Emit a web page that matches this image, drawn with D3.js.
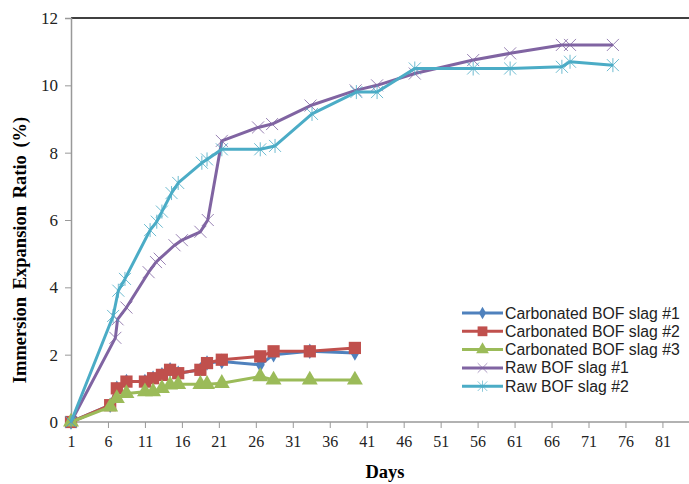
<!DOCTYPE html>
<html>
<head>
<meta charset="utf-8">
<script src="https://cdn.jsdelivr.net/npm/d3@7"></script>
<style>
  body { margin: 0; background: #fff; }
</style>
</head>
<body>
<svg id="chart" width="689" height="484"></svg>
<script>
// data
var names = ["Carbonated BOF slag #1", "Carbonated BOF slag #2", "Carbonated BOF slag #3", "Raw BOF slag #1", "Raw BOF slag #2"];
var colors = ["#4F81BD", "#C0504D", "#9BBB59", "#8064A2", "#4BACC6"];

var carbDays = [1, 6.3, 7.2, 8.5, 11, 12.1, 13.3, 14.4, 15.5, 18.5, 19.4, 21.4, 26.6, 28.4, 33.3, 39.4];
var carb1 = [0, 0.5, 1.0, 1.2, 1.2, 1.3, 1.4, 1.55, 1.45, 1.55, 1.75, 1.8, 1.7, 2.0, 2.1, 2.05];
var carb2 = [0, 0.5, 1.0, 1.2, 1.2, 1.3, 1.4, 1.55, 1.45, 1.55, 1.75, 1.85, 1.95, 2.1, 2.1, 2.2];
var carb3 = [0, 0.45, 0.7, 0.85, 0.9, 0.9, 1.0, 1.1, 1.12, 1.12, 1.12, 1.15, 1.35, 1.25, 1.25, 1.25];

var raw1Days = [1, 7, 7.3, 8.5, 11.5, 12.5, 13, 15, 16, 18.5, 19.5, 21.4, 26.3, 28.2, 33.4, 39.5, 42.4, 47.5, 55.4, 60.4, 67.4, 68.5, 74.3];
var raw1 = [0, 2.5, 3.05, 3.4, 4.45, 4.75, 4.85, 5.25, 5.4, 5.65, 6.0, 8.35, 8.75, 8.85, 9.4, 9.85, 10.0, 10.35, 10.75, 10.95, 11.2, 11.2, 11.2];

var raw2Days = [1, 6.7, 7.4, 8.3, 11.7, 12.6, 13.3, 14.6, 15.5, 18.7, 19.4, 21.4, 26.6, 28.6, 33.6, 39.6, 42.4, 47.5, 55.4, 60.4, 67.4, 68.5, 74.3];
var raw2 = [0, 3.15, 3.9, 4.25, 5.7, 5.95, 6.25, 6.8, 7.1, 7.7, 7.8, 8.1, 8.1, 8.2, 9.15, 9.8, 9.8, 10.5, 10.5, 10.5, 10.55, 10.7, 10.6];

var xTicks = d3.range(1, 82, 5);
var yTicks = [0, 2, 4, 6, 8, 10, 12];

var series = [
    { days: carbDays, vals: carb1, marker: "diamond" },
    { days: carbDays, vals: carb2, marker: "square" },
    { days: carbDays, vals: carb3, marker: "triangle" },
    { days: raw1Days, vals: raw1, marker: "x" },
    { days: raw2Days, vals: raw2, marker: "star" }
];

var svg = d3.select("#chart");
var serif = "'Liberation Serif', 'Times New Roman', serif";
var sans = "'Liberation Sans', Arial, sans-serif";

var x = d3.scaleLinear().domain([1, 85]).range([71, 692]);
var y = d3.scaleLinear().domain([0, 12]).range([422, 18]);

// top border
svg.append("line")
    .attr("x1", x(1)).attr("x2", 689)
    .attr("y1", y(12)).attr("y2", y(12))
    .attr("stroke", "#000").attr("stroke-width", 1.5);

// y axis
var yAxis = svg.append("g").attr("transform", "translate(" + x(1) + ",0)")
    .call(d3.axisLeft(y).tickValues(yTicks).tickSize(6).tickPadding(7));
yAxis.select(".domain").attr("stroke", "#999").attr("stroke-width", 1.5);
yAxis.selectAll(".tick line").attr("stroke", "#999");
yAxis.selectAll("text").attr("font-family", serif).attr("font-size", "17px").attr("fill", "#222");

// x axis
var xAxis = svg.append("g").attr("transform", "translate(0," + y(0) + ")")
    .call(d3.axisBottom(x).tickValues(xTicks).tickSize(6).tickPadding(8));
xAxis.select(".domain").attr("d", "M" + x(1) + ",0H689").attr("stroke", "#999").attr("stroke-width", 1.5);
xAxis.selectAll(".tick line").attr("stroke", "#999");
xAxis.selectAll("text").attr("font-family", serif).attr("font-size", "16px").attr("fill", "#222");

// axis titles
svg.append("text")
    .attr("transform", "translate(26,250) rotate(-90)")
    .attr("text-anchor", "middle")
    .attr("font-family", serif).attr("font-weight", "bold").attr("font-size", "18.5px")
    .attr("word-spacing", "3px")
    .text("Immersion Expansion Ratio (%)");

svg.append("text")
    .attr("x", 385).attr("y", 478)
    .attr("text-anchor", "middle")
    .attr("font-family", serif).attr("font-weight", "bold").attr("font-size", "18.5px")
    .text("Days");

function drawMarker(g, type, color) {
    if (type == "diamond") {
        g.append("path").attr("d", d3.symbol(d3.symbolDiamond, 70)())
            .attr("fill", color);
    } else if (type == "square") {
        g.append("path").attr("d", d3.symbol(d3.symbolSquare, 150)())
            .attr("fill", color);
    } else if (type == "triangle") {
        g.append("path").attr("d", d3.symbol(d3.symbolTriangle, 110)())
            .attr("fill", color);
    } else if (type == "x") {
        g.append("path").attr("d", "M-6,-6L6,6M-6,6L6,-6")
            .attr("stroke", color).attr("stroke-width", 1).attr("opacity", 0.8);
    } else {
        g.append("path").attr("d", "M-6,-6L6,6M-6,6L6,-6M0,-7L0,7")
            .attr("stroke", color).attr("stroke-width", 1).attr("opacity", 0.8);
    }
}

var line = d3.line()
    .x(function (d) { return x(d[0]); })
    .y(function (d) { return y(d[1]); });

series.forEach(function (s, i) {
    var pts = s.days.map(function (d, j) { return [d, s.vals[j]]; });
    svg.append("path")
        .attr("d", line(pts))
        .attr("fill", "none")
        .attr("stroke", colors[i])
        .attr("stroke-width", 3)
        .attr("stroke-linejoin", "round");
    svg.append("g").selectAll("g")
        .data(pts)
        .enter()
        .append("g")
        .attr("transform", function (d) { return "translate(" + x(d[0]) + "," + y(d[1]) + ")"; })
        .each(function () { drawMarker(d3.select(this), s.marker, colors[i]); });
});

// legend
var legend = svg.append("g").attr("transform", "translate(462,313)");
names.forEach(function (n, i) {
    var row = legend.append("g").attr("transform", "translate(0," + (i * 18.3) + ")");
    row.append("line").attr("x1", 0).attr("x2", 41).attr("y1", 0).attr("y2", 0)
        .attr("stroke", colors[i]).attr("stroke-width", 3);
    var m = row.append("g").attr("transform", "translate(20.5,0) scale(0.8)");
    drawMarker(m, series[i].marker, colors[i]);
    row.append("text").attr("x", 43).attr("y", 5.5)
        .attr("font-family", sans).attr("font-size", "15.8px").attr("fill", "#222")
        .text(n);
});
</script>
</body>
</html>
